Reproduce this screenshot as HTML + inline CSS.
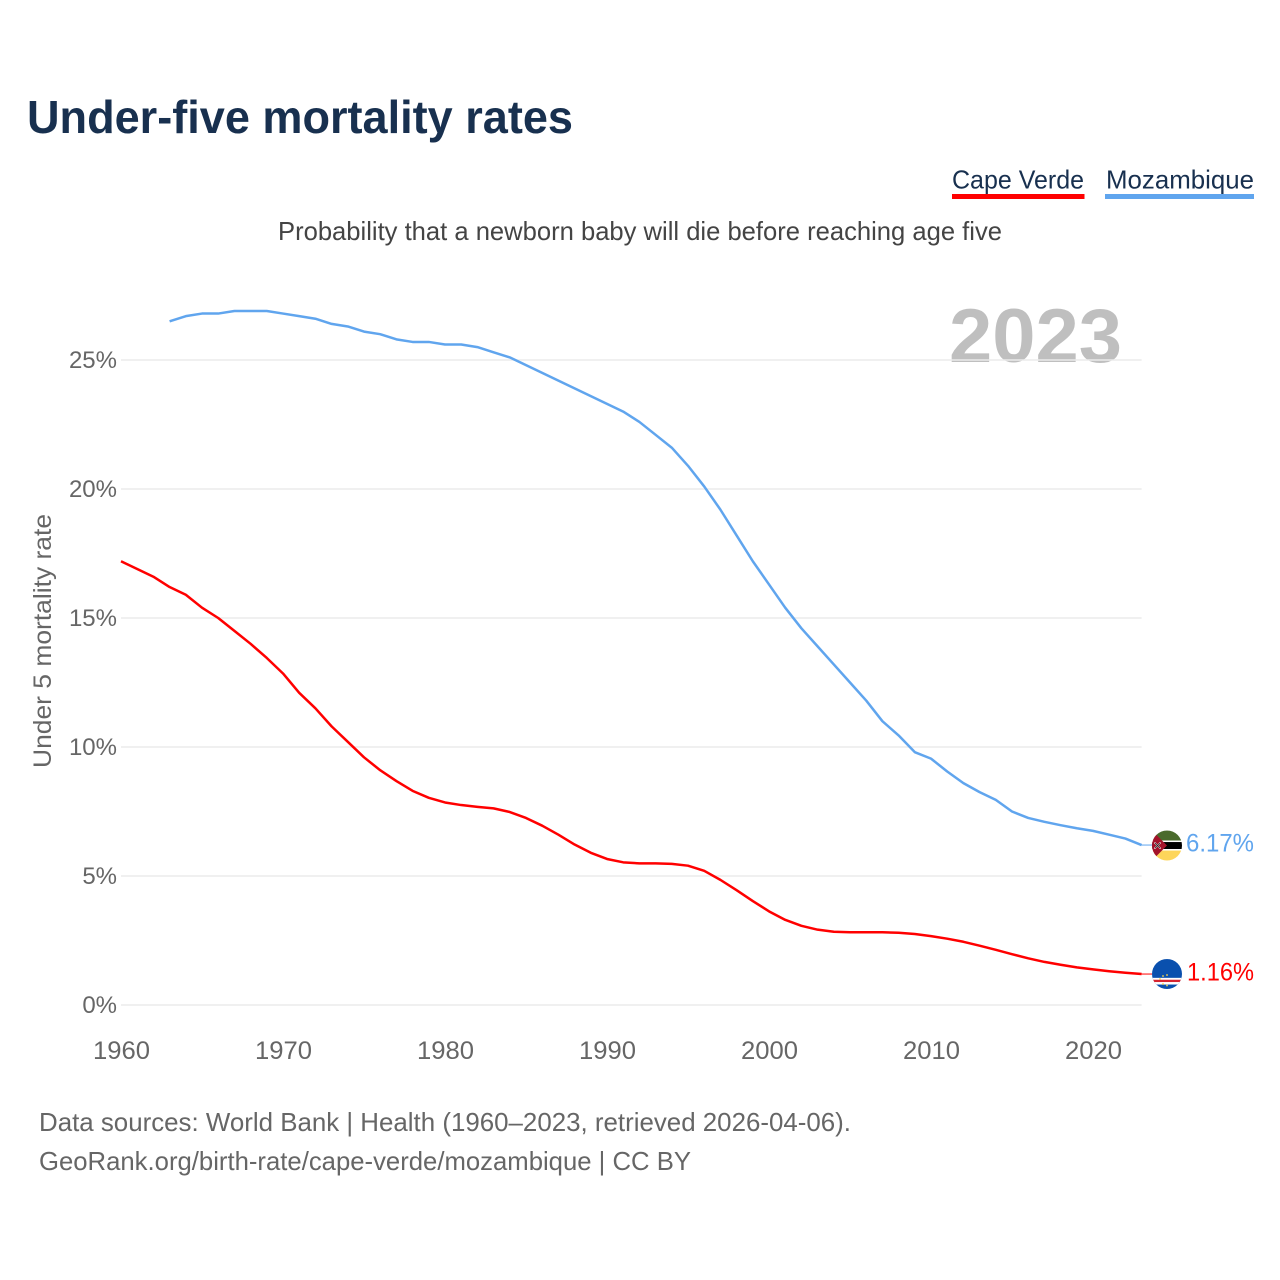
<!DOCTYPE html>
<html lang="en">
<head>
<meta charset="utf-8">
<title>Under-five mortality rates</title>
<style>
html,body{margin:0;padding:0;background:#fff;}
svg{display:block;}
text{font-family:"Liberation Sans",sans-serif;}
</style>
</head>
<body>
<svg id="chart" xmlns="http://www.w3.org/2000/svg" width="1280" height="1280" viewBox="0 0 1280 1280">
  <rect x="0" y="0" width="1280" height="1280" fill="#fff"/>
  <text x="27" y="133" font-size="46" font-weight="700" fill="#18304f" textLength="546" lengthAdjust="spacingAndGlyphs">Under-five mortality rates</text>

  <g>
    <text x="952" y="188.500" font-size="26" fill="#18304f" textLength="132" lengthAdjust="spacingAndGlyphs">Cape Verde</text>
    <rect x="952" y="194" width="132.500" height="5" fill="#ff0000"/>
  </g>
  <g>
    <text x="1106" y="188.500" font-size="26" fill="#18304f" textLength="148" lengthAdjust="spacingAndGlyphs">Mozambique</text>
    <rect x="1105" y="194" width="149" height="5" fill="#60a5ee"/>
  </g>

  <text x="278" y="240" font-size="26" fill="#444444" textLength="724" lengthAdjust="spacingAndGlyphs">Probability that a newborn baby will die before reaching age five</text>

  <text x="949" y="362" font-size="76" font-weight="700" fill="#bfbfbf" textLength="173" lengthAdjust="spacingAndGlyphs">2023</text>

  <g id="grid"></g>
  <g id="yticks"></g>
  <g id="xticks"></g>

  <text transform="translate(51 641) rotate(-90)" text-anchor="middle" font-size="25" fill="#666666" textLength="254" lengthAdjust="spacingAndGlyphs">Under 5 mortality rate</text>

  <g id="series"></g>

  <defs>
    <clipPath id="clip-moz"><circle cx="0" cy="0" r="15"/></clipPath>
    <clipPath id="clip-cv"><circle cx="0" cy="0" r="15"/></clipPath>
  </defs>

  <g id="flag-mozambique">
    <g clip-path="url(#clip-moz)">
      <rect x="-15" y="-15" width="30" height="10" fill="#4a6a2c"/>
      <rect x="-15" y="-5" width="30" height="1.500" fill="#fff"/>
      <rect x="-15" y="-3.500" width="30" height="7" fill="#000"/>
      <rect x="-15" y="3.500" width="30" height="1.500" fill="#fff"/>
      <rect x="-15" y="5" width="30" height="10" fill="#fdd55a"/>
      <polygon points="-15,-15 0,0 -15,15" fill="#a3122a"/>
      <path d="M-12.500,-3 L-6.500,3 M-6.500,-3 L-12.500,3" stroke="#fff" stroke-width="1.500"/>
      <path d="M-12,-2.500 L-7,2.500 M-7,-2.500 L-12,2.500" stroke="#222" stroke-width="0.800"/>
    </g>
  </g>
  <g id="flag-cape-verde">
    <g clip-path="url(#clip-cv)">
      <rect x="-15" y="-15" width="30" height="30" fill="#0a50ae"/>
      <rect x="-15" y="3.800" width="30" height="6.700" fill="#fff"/>
      <rect x="-15" y="5.700" width="30" height="2.300" fill="#d7232f"/>
      <circle cx="-4" cy="2" r="0.900" fill="#f3d24a"/>
      <circle cx="0" cy="1" r="0.900" fill="#f3d24a"/>
      <circle cx="-7" cy="5" r="0.900" fill="#f3d24a"/>
      <circle cx="-4" cy="10" r="0.900" fill="#f3d24a"/>
      <circle cx="0" cy="11.500" r="0.900" fill="#f3d24a"/>
    </g>
  </g>

  <g id="endlabels"></g>

  <text x="39" y="1131" font-size="26" fill="#666666" textLength="812" lengthAdjust="spacingAndGlyphs">Data sources: World Bank | Health (1960–2023, retrieved 2026-04-06).</text>
  <text x="39" y="1170" font-size="26" fill="#666666" textLength="652" lengthAdjust="spacingAndGlyphs">GeoRank.org/birth-rate/cape-verde/mozambique | CC BY</text>
</svg>

<script>
const firstYear = 1960;
const yTickValues = [0, 5, 10, 15, 20, 25];
const yTickLabels = ["0%", "5%", "10%", "15%", "20%", "25%"];
const xTickYears = [1960, 1970, 1980, 1990, 2000, 2010, 2020];
const xTickLabels = ["1960", "1970", "1980", "1990", "2000", "2010", "2020"];
const capeVerdeValues = [
  17.2, 16.9, 16.6, 16.2, 15.9, 15.4, 15.0, 14.5, 14.0, 13.45,
  12.85, 12.1, 11.5, 10.8, 10.2, 9.6, 9.1, 8.68, 8.3, 8.03,
  7.85, 7.75, 7.68, 7.62, 7.48, 7.25, 6.95, 6.6, 6.22, 5.9,
  5.66, 5.53, 5.49, 5.49, 5.47, 5.4, 5.2, 4.85, 4.45, 4.03,
  3.63, 3.3, 3.07, 2.92, 2.84, 2.82, 2.82, 2.82, 2.8, 2.75,
  2.67, 2.57, 2.45, 2.3, 2.14, 1.97, 1.81, 1.67, 1.56, 1.46,
  1.38, 1.31, 1.25, 1.2
];
const mozambiqueValues = [
  null, null, null, 26.5, 26.7, 26.8, 26.8, 26.9, 26.9, 26.9,
  26.8, 26.7, 26.6, 26.4, 26.3, 26.1, 26.0, 25.8, 25.7, 25.7,
  25.6, 25.6, 25.5, 25.3, 25.1, 24.8, 24.5, 24.2, 23.9, 23.6,
  23.3, 23.0, 22.6, 22.1, 21.6, 20.9, 20.1, 19.2, 18.2, 17.2,
  16.3, 15.4, 14.6, 13.9, 13.2, 12.5, 11.8, 11.0, 10.45, 9.8,
  9.55, 9.05, 8.6, 8.25, 7.95, 7.5, 7.25, 7.1, 6.97, 6.85,
  6.75, 6.6, 6.45, 6.2
];
const capeVerdeLabel = "1.16%";
const mozambiqueLabel = "6.17%";

const NS = "http://www.w3.org/2000/svg";
function xScale(year) { return 121 + (year - 1960) * 16.2; }
function yScale(v) { return 1005 - v * 25.8; }
function make(tag, attrs, parent, txt) {
  const el = document.createElementNS(NS, tag);
  for (const k in attrs) el.setAttribute(k, attrs[k]);
  if (txt !== undefined) el.textContent = txt;
  parent.appendChild(el);
  return el;
}
const plotRight = xScale(2023);

yTickValues.forEach(function (v, i) {
  const line = make("line", { x1: xScale(1960), x2: plotRight, y1: yScale(v), y2: yScale(v), stroke: "#ececec", "stroke-width": 1.5 }, document.getElementById("grid"));
  
  
  const label = make("text", { x: 117, y: yScale(v) + 8, "text-anchor": "end", "font-size": 24, fill: "#666666" }, document.getElementById("yticks"), yTickLabels[i]);
  
  
});

xTickYears.forEach(function (year, i) {
  const label = make("text", { x: xScale(year) + 0.5, y: 1059, "text-anchor": "middle", "font-size": 25, fill: "#666666", textLength: 57, lengthAdjust: "spacingAndGlyphs" }, document.getElementById("xticks"), xTickLabels[i]);
  
  
});

function linePath(values) {
  let d = "";
  values.forEach(function (v, i) {
    if (v === null) return;
    d += (d ? "L" : "M") + xScale(firstYear + i).toFixed(2) + " " + yScale(v).toFixed(2);
  });
  return d;
}
const seriesGroup = document.getElementById("series");
const cvLine = make("path", { d: linePath(capeVerdeValues), fill: "none", stroke: "#ff0000", "stroke-width": 2.5, "stroke-linejoin": "round" }, seriesGroup);


const mzLine = make("path", { d: linePath(mozambiqueValues), fill: "none", stroke: "#60a5ee", "stroke-width": 2.5, "stroke-linejoin": "round" }, seriesGroup);



const cvLast = capeVerdeValues[capeVerdeValues.length - 1];
const mzLast = mozambiqueValues[mozambiqueValues.length - 1];
const flagX = 1167;
const mzFlagY = yScale(mzLast) + 0.5;
const cvFlagY = yScale(cvLast);
document.getElementById("flag-mozambique").setAttribute("transform", "translate(" + flagX + " " + mzFlagY + ")");
document.getElementById("flag-cape-verde").setAttribute("transform", "translate(" + flagX + " " + cvFlagY + ")");

const labelGroup = document.getElementById("endlabels");
const cvConn = make("line", { x1: plotRight, x2: 1152, y1: yScale(cvLast), y2: yScale(cvLast), stroke: "#ff0000", "stroke-width": 1 }, labelGroup);


const mzConn = make("line", { x1: plotRight, x2: 1152, y1: yScale(mzLast), y2: yScale(mzLast), stroke: "#60a5ee", "stroke-width": 1 }, labelGroup);


const cvText = make("text", { x: 1187, y: yScale(cvLast) + 6.5, "font-size": 25, fill: "#ff0000", textLength: 67, lengthAdjust: "spacingAndGlyphs" }, labelGroup, capeVerdeLabel);


const mzText = make("text", { x: 1186, y: yScale(mzLast) + 6.5, "font-size": 25, fill: "#60a5ee", textLength: 68, lengthAdjust: "spacingAndGlyphs" }, labelGroup, mozambiqueLabel);


</script>
</body>
</html>
